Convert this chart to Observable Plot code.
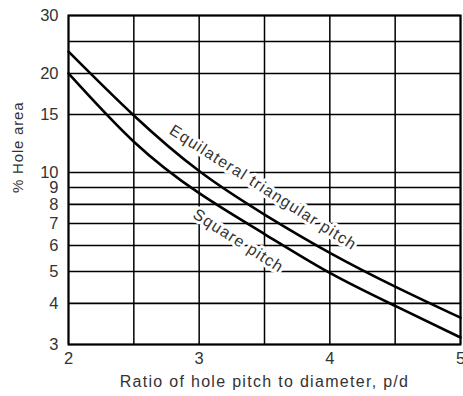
<!DOCTYPE html>
<html>
<head>
<meta charset="utf-8">
<script src="https://cdn.jsdelivr.net/npm/d3@7"></script>
<script src="https://cdn.jsdelivr.net/npm/@observablehq/plot@0.6"></script>
<style>
  html, body { margin: 0; padding: 0; background: #fff; }
  svg { display: block; }
</style>
</head>
<body>
<div id="chart"></div>
<script>
const pd = [2, 2.5, 3, 3.5, 4, 4.5, 5];
const squarePitch = [20, 12.4, 8.65, 6.5, 4.95, 3.93, 3.15];
const triangularPitch = [23.3, 14.9, 10.1, 7.45, 5.7, 4.5, 3.62];
const yTicks = [30, 20, 15, 10, 9, 8, 7, 6, 5, 4, 3];
const yGrid = [30, 25, 20, 15, 10, 9, 8, 7, 6, 5, 4, 3];
const xTicks = [2, 3, 4, 5];
const xGrid = [2, 2.5, 3, 3.5, 4, 4.5, 5];
const curveLabels = [
  {x: 3.49, y: 9.0, text: "Equilateral triangular pitch"},
  {x: 3.30, y: 6.2, text: "Square pitch"}
];

const sq = pd.map((x, i) => ({x, y: squarePitch[i]}));
const tr = pd.map((x, i) => ({x, y: triangularPitch[i]}));

const chart = Plot.plot({
  width: 463,
  height: 396,
  marginLeft: 68,
  marginRight: 3,
  marginTop: 15,
  marginBottom: 52,
  style: {fontFamily: "Liberation Sans, Arial, sans-serif", color: "#333", background: "#fff"},
  x: {domain: [2, 5]},
  y: {type: "log", domain: [3, 30]},
  marks: [
    Plot.ruleY(yGrid, {stroke: "#000", strokeWidth: 1.6}),
    Plot.ruleX(xGrid, {stroke: "#000", strokeWidth: 1.5}),
    Plot.frame({stroke: "#000", strokeWidth: 2}),
    Plot.axisY({ticks: yTicks, tickFormat: d => String(d), tickSize: 0, tickPadding: 10, fontSize: 16.5, label: null}),
    Plot.axisX({ticks: xTicks, tickFormat: d => String(d), tickSize: 0, tickPadding: 8, fontSize: 16.5, label: null}),
    Plot.text(["Ratio of hole pitch to diameter, p/d"], {frameAnchor: "bottom", dy: 42, fontSize: 16, fill: "#333"}),
    Plot.text(["% Hole area"], {frameAnchor: "left", rotate: -90, dx: -50, dy: 13, fontSize: 15, fill: "#333"}),
    Plot.text(curveLabels, {x: "x", y: "y", text: "text", rotate: 32.5, fontSize: 16, fill: "#333", stroke: "#fff", strokeWidth: 6, paintOrder: "stroke"}),
    Plot.line(tr, {x: "x", y: "y", curve: "natural", stroke: "#000", strokeWidth: 2.6}),
    Plot.line(sq, {x: "x", y: "y", curve: "natural", stroke: "#000", strokeWidth: 2.6})
  ]
});
const spacing = {
  "Ratio of hole pitch to diameter, p/d": "1.3px",
  "% Hole area": "0.8px",
  "Equilateral triangular pitch": "1.2px",
  "Square pitch": "1.2px"
};
d3.select(chart).selectAll("text").each(function() {
  const t = this.textContent;
  if (spacing[t]) this.setAttribute("letter-spacing", spacing[t]);
});
document.getElementById("chart").appendChild(chart);
</script>
</body>
</html>
